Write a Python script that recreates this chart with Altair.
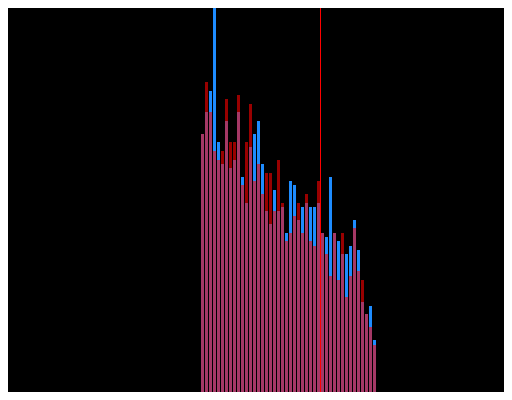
import altair as alt
import pandas as pd

# bar tops (height units above the bottom edge of the picture)
blue_vals = [266, 288, 309, 420, 258, 236, 279, 232, 240, 288, 223, 197, 253, 266, 279, 236,
             189, 176, 210, 189, 193, 167, 219, 215, 180, 193, 197, 193, 193, 197, 167, 163,
             223, 167, 159, 146, 146, 154, 180, 150, 98, 86, 94, 60]
red_vals = [266, 318, 288, 249, 240, 249, 301, 258, 258, 305, 215, 258, 296, 219, 236, 206,
            227, 227, 189, 240, 197, 159, 167, 184, 197, 167, 206, 159, 154, 219, 167, 146,
            124, 167, 120, 167, 103, 124, 172, 129, 120, 86, 73, 55]
mean_value = 30.125

rows = []
for i, v in enumerate(blue_vals):
    rows.append({"series": "blue", "start": i, "end": i + 1, "value": v})
for i, v in enumerate(red_vals):
    rows.append({"series": "red", "start": i, "end": i + 1, "value": v})
df = pd.DataFrame(rows)

xs = alt.Scale(domain=[-48, 76], nice=False, zero=False)
ys = alt.Scale(domain=[8, 392], nice=False, zero=False)

blue = alt.Chart(df).transform_filter(alt.datum.series == "blue").mark_bar(
    color="#1e8cff", clip=True
).encode(
    x=alt.X("start:Q", bin="binned", scale=xs, axis=None),
    x2="end:Q",
    y=alt.Y("value:Q", scale=ys, axis=None),
)
red = alt.Chart(df).transform_filter(alt.datum.series == "red").mark_bar(
    color="#ff0000", opacity=0.6, clip=True
).encode(
    x=alt.X("start:Q", bin="binned", scale=xs, axis=None),
    x2="end:Q",
    y=alt.Y("value:Q", scale=ys, axis=None),
)
rule = alt.Chart(pd.DataFrame({"m": [mean_value]})).mark_rule(
    color="#ff0000", strokeWidth=1
).encode(x=alt.X("m:Q", scale=xs, axis=None))

chart = alt.layer(blue, red, rule).properties(
    width=496, height=384, background="black", padding=0,
    autosize=alt.AutoSizeParams(type="none")
).configure_view(stroke=None)

chart.save("out.html", embed_options={"renderer": "svg", "actions": False})
